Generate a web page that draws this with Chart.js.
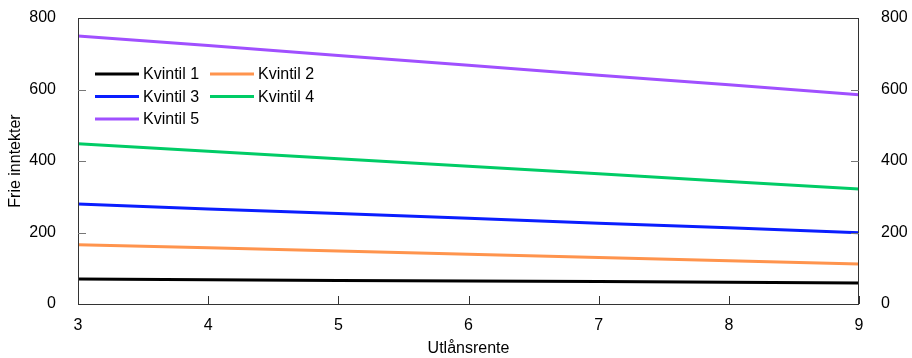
<!DOCTYPE html>
<html lang="no">
<head>
<meta charset="UTF-8">
<title>Frie inntekter</title>
<script src="https://cdn.jsdelivr.net/npm/chart.js"></script>
<style>
  html, body { margin: 0; padding: 0; background: #fff; }
  #wrap { width: 912px; height: 358px; }
</style>
</head>
<body>
<div id="wrap"><canvas id="chart" width="912" height="358"></canvas></div>
<script>
// Utlånsrente (x) og frie inntekter per kvintil
var rente = [3, 4, 5, 6, 7, 8, 9];
var kvintil1 = [70, 68, 66, 64, 63, 61, 59];
var kvintil2 = [166, 157, 148, 139, 130, 121, 112];
var kvintil3 = [280, 266, 253, 240, 226, 213, 199];
var kvintil4 = [448, 427, 406, 385, 364, 343, 322];
var kvintil5 = [750, 723, 695, 668, 640, 613, 585];
var yTicks = [0, 200, 400, 600, 800];
var xTicks = [3, 4, 5, 6, 7, 8, 9];

var FONT = 'Liberation Sans, Arial, Helvetica, sans-serif';
var FS = 16;
var AXIS = '#333';

function pts(vals) {
    return vals.map(function (v, i) { return { x: rente[i], y: v }; });
}

function series(label, vals, color) {
    return {
        label: label,
        data: pts(vals),
        borderColor: color,
        backgroundColor: color,
        borderWidth: 3,
        pointRadius: 0,
        tension: 0,
        fill: false
    };
}

function fixY(w) {
    return function (s) { s.width = w; s.paddingTop = 0; s.paddingBottom = 0; };
}

// frame, inward ticks and in-plot legend
var decor = {
    id: 'decor',
    afterDraw: function (chart) {
        var c = chart.ctx, a = chart.chartArea;
        var sx = chart.scales.x, sy = chart.scales.y;
        c.save();
        c.strokeStyle = AXIS;
        c.lineWidth = 1;
        c.strokeRect(a.left + 0.5, a.top + 0.5, a.right - a.left - 1, a.bottom - a.top);
        c.strokeStyle = '#777';
        c.beginPath();
        yTicks.forEach(function (v) {
            if (v === 0 || v === 800) return;
            var y = Math.round(sy.getPixelForValue(v)) + 0.5;
            c.moveTo(a.left, y); c.lineTo(a.left + 8, y);
            c.moveTo(a.right, y); c.lineTo(a.right - 8, y);
        });
        c.stroke();
        c.strokeStyle = AXIS;
        c.beginPath();
        xTicks.forEach(function (v) {
            var x = Math.round(sx.getPixelForValue(v)) + 0.5;
            c.moveTo(x, a.bottom); c.lineTo(x, a.bottom - 8);
        });
        c.stroke();

        // legend
        var ds = chart.data.datasets;
        c.font = FS + 'px ' + FONT;
        c.textBaseline = 'middle';
        c.fillStyle = '#000';
        ds.forEach(function (d, i) {
            var col = i % 2, row = Math.floor(i / 2);
            var x0 = a.left + 17 + col * 115;
            var y0 = a.top + 56 + row * 22.5;
            c.strokeStyle = d.borderColor;
            c.lineWidth = 3;
            c.beginPath();
            c.moveTo(x0, y0); c.lineTo(x0 + 44, y0);
            c.stroke();
            c.fillText(d.label, x0 + 48, y0 + 1);
        });
        c.restore();
    }
};

new Chart(document.getElementById('chart').getContext('2d'), {
    type: 'line',
    data: {
        datasets: [
            series('Kvintil 1', kvintil1, '#000000'),
            series('Kvintil 2', kvintil2, '#ff944d'),
            series('Kvintil 3', kvintil3, '#0a1eff'),
            series('Kvintil 4', kvintil4, '#00cc66'),
            series('Kvintil 5', kvintil5, '#a050ff')
        ]
    },
    options: {
        responsive: false,
        animation: false,
        layout: { padding: { top: 18, left: 0, right: 0, bottom: 0 } },
        plugins: { legend: { display: false }, tooltip: { enabled: false } },
        scales: {
            x: {
                type: 'linear',
                min: 3, max: 9,
                afterFit: function (s) { s.height = 54; s.paddingLeft = 0; s.paddingRight = 0; },
                grid: { display: false, drawTicks: false },
                border: { display: false },
                ticks: { stepSize: 1, padding: 12, color: '#000', font: { family: FONT, size: FS } },
                title: { display: true, text: 'Utlånsrente', color: '#000', padding: { top: 0, bottom: 0 }, font: { family: FONT, size: FS } }
            },
            y: {
                position: 'left',
                min: 0, max: 800,
                afterFit: fixY(78),
                grid: { display: false, drawTicks: false },
                border: { display: false },
                ticks: { stepSize: 200, padding: 22, color: '#000', font: { family: FONT, size: FS } },
                title: { display: true, text: 'Frie inntekter', color: '#000', padding: { top: 6, bottom: 0 }, font: { family: FONT, size: FS } }
            },
            y2: {
                position: 'right',
                min: 0, max: 800,
                afterFit: fixY(53),
                grid: { display: false, drawTicks: false },
                border: { display: false },
                ticks: { stepSize: 200, padding: 22, color: '#000', font: { family: FONT, size: FS } }
            }
        }
    },
    plugins: [decor]
});
</script>
</body>
</html>
